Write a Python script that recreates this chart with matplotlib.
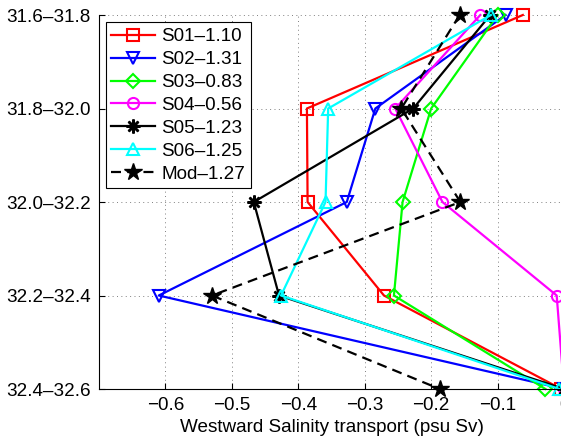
import numpy as np
import matplotlib
matplotlib.use('Agg')
import matplotlib.pyplot as plt

plt.rcParams['font.family'] = ['Liberation Sans', 'DejaVu Sans']

# salinity classes (psu), top to bottom
classes = ['31.6\u201331.8', '31.8\u201332.0', '32.0\u201332.2', '32.2\u201332.4', '32.4\u201332.6']

# westward salinity transport per class (psu Sv)
s01 = [-0.062, -0.387, -0.386, -0.271, -0.004]
s02 = [-0.088, -0.284, -0.327, -0.610, 0.0]
s03 = [-0.100, -0.200, -0.243, -0.256, -0.028]
s04 = [-0.126, -0.254, -0.183, -0.011, 0.0]
s05 = [-0.111, -0.227, -0.467, -0.429, 0.0]
s06 = [-0.110, -0.355, -0.359, -0.426, -0.007]
mod = [-0.157, -0.245, -0.156, -0.530, -0.187]

labels = ['S01\u20131.10', 'S02\u20131.31', 'S03\u20130.83', 'S04\u20130.56',
          'S05\u20131.23', 'S06\u20131.25', 'Mod\u20131.27']

fig = plt.figure(figsize=(5.61, 4.40), dpi=100)
ax = fig.add_axes([99/561, 51/440, 465/561, 374/440])

y = np.arange(len(classes))
kw = dict(lw=1.6, clip_on=False)
ax.plot(s01, y, color='#ff0000', marker='s', ms=8, mfc='none', mew=1.5, label=labels[0], **kw)
ax.plot(s02, y, color='#0000ff', marker='v', ms=9, mfc='none', mew=1.5, label=labels[1], **kw)
ax.plot(s03, y, color='#00ff00', marker='D', ms=7, mfc='none', mew=1.5, label=labels[2], **kw)
ax.plot(s04, y, color='#ff00ff', marker='o', ms=8, mfc='none', mew=1.5, label=labels[3], **kw)
ax.plot(s05, y, color='k', marker=(8, 2, 0), ms=10, mew=1.8, label=labels[4], **kw)
ax.plot(s06, y, color='#00ffff', marker='^', ms=9, mfc='none', mew=1.5, label=labels[5], **kw)
ax.plot(mod, y, color='k', ls=(0, (4.5, 2.8)), marker='*', ms=13, mfc='k', mec='k',
        label=labels[6], **kw)

ax.set_xlim(-0.7, 0)
ax.set_ylim(len(classes) - 1, 0)
ax.set_yticks(y)
ax.set_yticklabels(classes)
ax.set_xticks([-0.6, -0.5, -0.4, -0.3, -0.2, -0.1, 0])
ax.set_xticklabels(['\u22120.6', '\u22120.5', '\u22120.4', '\u22120.3', '\u22120.2', '\u22120.1', '0'])
ax.tick_params(direction='in', length=4, width=0.8, labelsize=13.6, pad=6)
ax.set_xlabel('Westward Salinity transport (psu Sv)', fontsize=13.6, labelpad=3)

ax.grid(True, color='0.5', ls=(0, (1, 3.5)), lw=0.7)
ax.set_axisbelow(True)
for side in ['top', 'right']:
    ax.spines[side].set_visible(False)
for side in ['left', 'bottom']:
    ax.spines[side].set_linewidth(0.8)

leg = ax.legend(loc='upper left', bbox_to_anchor=(0.0144, 0.980), borderaxespad=0,
                fontsize=13.6, numpoints=1, handlelength=2.3, handletextpad=0.35,
                labelspacing=0.3, borderpad=0.3, fancybox=False, framealpha=1)
leg.get_frame().set_edgecolor('k')
leg.get_frame().set_linewidth(0.8)

fig.savefig('out.png', dpi=100)
